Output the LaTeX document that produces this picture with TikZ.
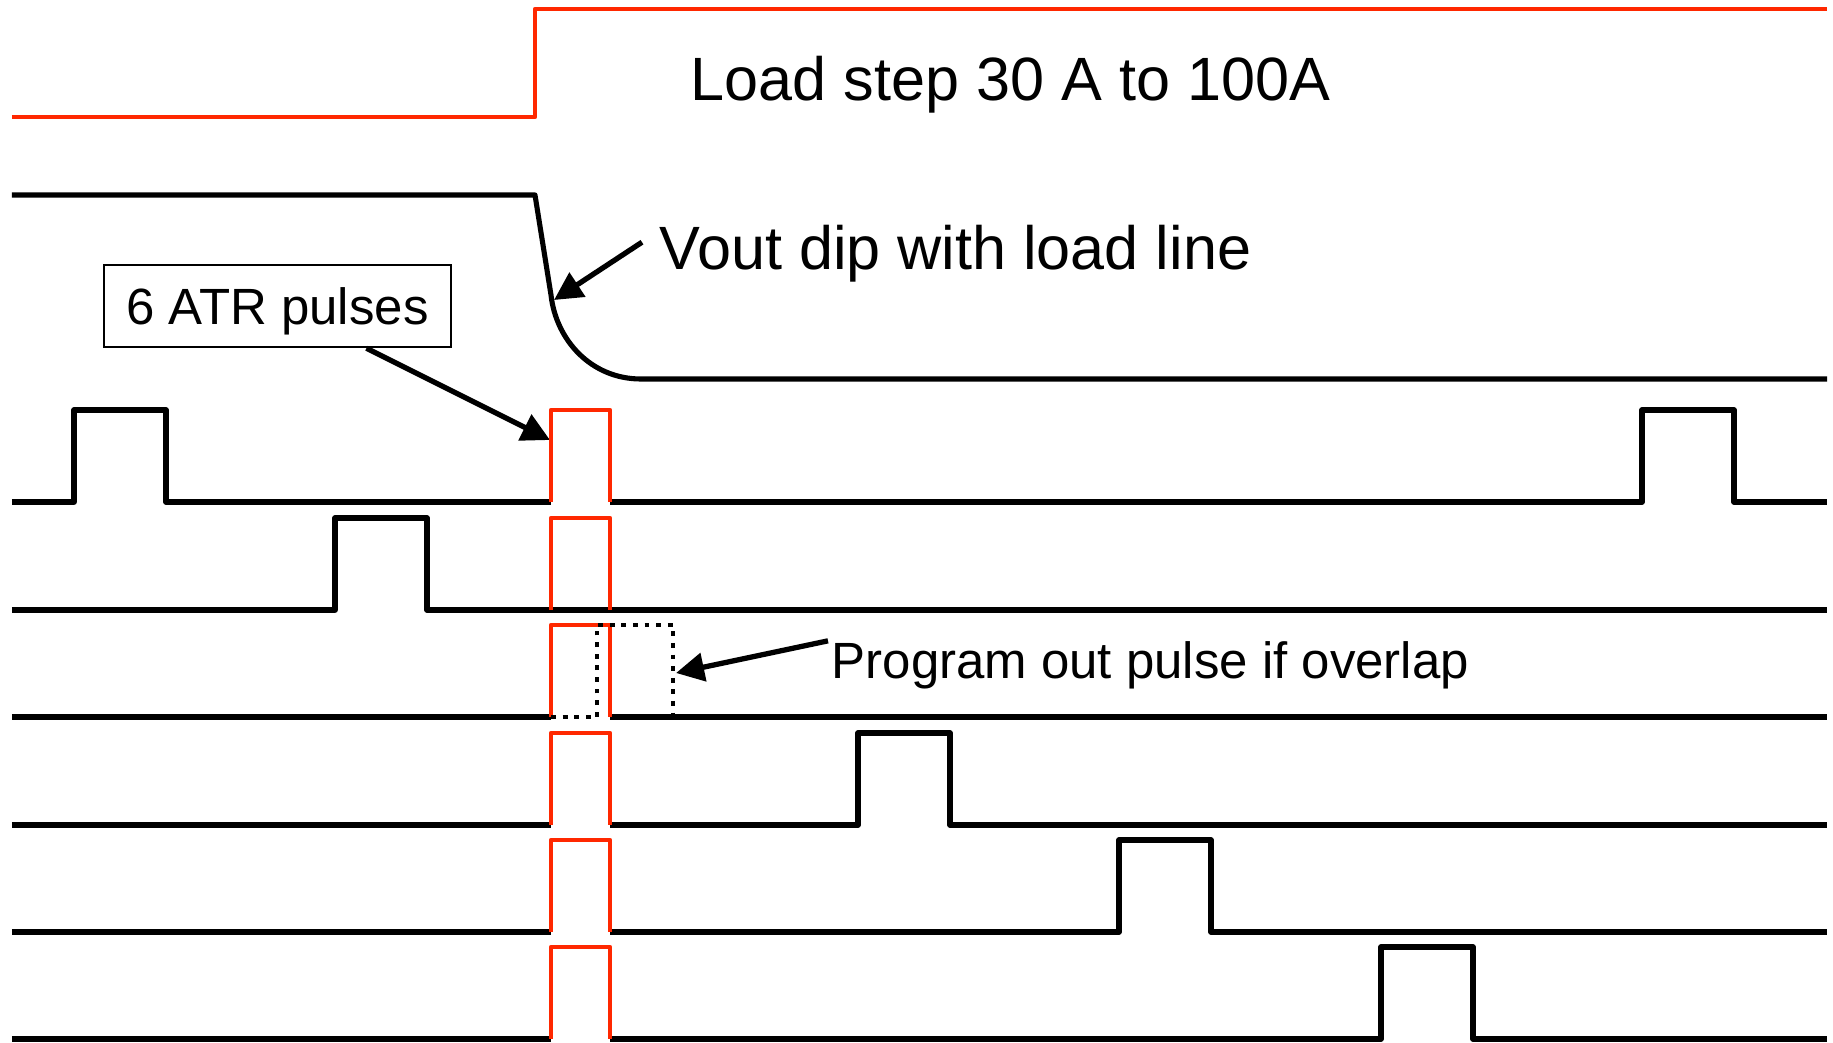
\documentclass[tikz,border=0pt]{standalone}
\usepackage{fontspec}
\setmainfont{Liberation Sans}
\usetikzlibrary{arrows.meta}

\begin{document}
\begin{tikzpicture}[x=1cm,y=1cm,
  sig/.style={line width=1.45pt,draw=black,line join=round},
  atrpulse/.style={line width=1.35pt,draw=loadred,line join=round},
  ovl/.style={line width=1.4pt,draw=black,dash pattern=on 1.4pt off 1.9pt},
  pointer/.style={-{Triangle[length=8pt,width=8pt]},line width=1.5pt,draw=black},
  biglabel/.style={font=\fontsize{17.4}{20}\selectfont,inner sep=0pt,anchor=base west},
  smalllabel/.style={font=\fontsize{14.5}{17}\selectfont,inner sep=0pt,anchor=base west}]
\definecolor{loadred}{RGB}{255,40,0}
\useasboundingbox (0,0) rectangle (18.33,-10.42);
% load step
\draw[atrpulse] (0.12,-1.17) -- (5.35,-1.17) -- (5.35,-0.09) -- (18.27,-0.09);
\node[biglabel] (load) at (6.90,-1.00) {Load step 30 A to 100A};
% vout
\draw[sig] (0.12,-1.95) -- (5.35,-1.95) -- (5.51,-2.95) .. controls (5.56,-3.40) and (5.91,-3.79) .. (6.41,-3.79) -- (18.27,-3.79);
\node[biglabel] (vout) at (6.59,-2.69) {Vout dip with load line};
\coordinate (dip) at (5.54,-3.00);
\draw[pointer] ([xshift=-0.17cm,yshift=0.11cm]vout.west) -- (dip);
% atr label
\node[draw=black,line width=.7pt,minimum width=3.47cm,minimum height=0.82cm,inner sep=0pt,text depth=0pt,font=\fontsize{14.5}{17}\selectfont] (atr) at (2.775,-3.06) {6 ATR pulses};
\coordinate (atrtip) at (5.50,-4.40);
\draw[pointer] ([xshift=0.89cm]atr.south) -- (atrtip);
% phase 1
\draw[sig] (0.12,-5.02) -| (0.74,-4.10) -| (1.66,-5.02) -- (5.51,-5.02);
\draw[sig] (6.10,-5.02) -| (16.42,-4.10) -| (17.34,-5.02) -- (18.27,-5.02);
\draw[atrpulse] (5.51,-5.02) |- (6.10,-4.10) -- (6.10,-5.02);
% phase 2
\draw[sig] (0.12,-6.10) -| (3.35,-5.18) -| (4.27,-6.10) -- (18.27,-6.10);
\draw[atrpulse] (5.51,-6.10) |- (6.10,-5.18) -- (6.10,-6.10);
% phase 3
\draw[sig] (0.12,-7.17) -- (5.51,-7.17);
\draw[sig] (6.10,-7.17) -- (18.27,-7.17);
\draw[atrpulse] (5.51,-7.17) |- (6.10,-6.25) -- (6.10,-7.17);
\draw[ovl] (5.51,-7.17) -- (5.97,-7.17) |- (6.73,-6.25) -- (6.73,-7.17);
\node[smalllabel] (prog) at (8.31,-6.78) {Program out pulse if overlap};
\coordinate (ovltip) at (6.76,-6.73);
\draw[pointer] ([xshift=-0.03cm,yshift=0.24cm]prog.west) -- (ovltip);
% phase 4
\draw[sig] (0.12,-8.25) -- (5.51,-8.25);
\draw[sig] (6.10,-8.25) -| (8.58,-7.33) -| (9.50,-8.25) -- (18.27,-8.25);
\draw[atrpulse] (5.51,-8.25) |- (6.10,-7.33) -- (6.10,-8.25);
% phase 5
\draw[sig] (0.12,-9.32) -- (5.51,-9.32);
\draw[sig] (6.10,-9.32) -| (11.19,-8.40) -| (12.11,-9.32) -- (18.27,-9.32);
\draw[atrpulse] (5.51,-9.32) |- (6.10,-8.40) -- (6.10,-9.32);
% phase 6
\draw[sig] (0.12,-10.39) -- (5.51,-10.39);
\draw[sig] (6.10,-10.39) -| (13.81,-9.47) -| (14.73,-10.39) -- (18.27,-10.39);
\draw[atrpulse] (5.51,-10.39) |- (6.10,-9.47) -- (6.10,-10.39);
\end{tikzpicture}
\end{document}
